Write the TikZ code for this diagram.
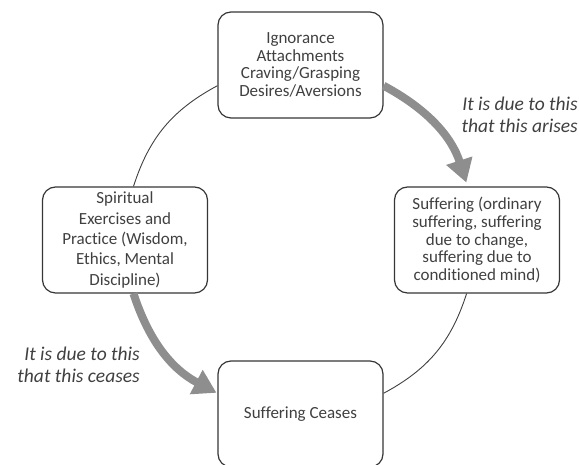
\documentclass[tikz,border=0pt]{standalone}
\usepackage{fontspec}
\setmainfont{Carlito}[Ligatures={NoCommon,NoContextual}, Contextuals=NoAlternate]
\usepackage{xcolor}
\usetikzlibrary{positioning,arrows.meta}
\definecolor{inkgray}{HTML}{404040}
\definecolor{flowgray}{HTML}{8E8E8E}

\begin{document}
\begin{tikzpicture}[
		x=1pt, y=1pt,
		stage/.style={
			draw=inkgray!85!black,
			line width=1.2pt,
			rounded corners=13pt,
			fill=white,
			text=inkgray,
			align=center,
			minimum width=165pt,
			minimum height=106pt,
			inner sep=2pt,
			font=\fontsize{17}{17.8}\selectfont
		},
		note/.style={
			text=inkgray,
			inner sep=0pt,
			align=right,
			font=\itshape\fontsize{19.5}{22}\selectfont
		},
		ring/.style={draw=inkgray, line width=0.9pt},
		flow/.style={draw=flowgray, line width=8pt, -{Triangle[width=26pt,length=23pt]}}
		]
		
		\clip (0,0) rectangle (579,465);
		
		\node[stage] (causes) at (300.5,400) {Ignorance\\ Attachments\\ Craving/Grasping\\ Desires/Aversions};
		
		\node[stage] (suffer) at (477,225) {Suffering (ordinary\\ suffering, suffering\\ due to change,\\ suffering due to\\ conditioned mind)};
		
		\node[stage] (ceases) at (300.5,51) {Suffering Ceases};
		
		\node[stage, font=\fontsize{17}{20.3}\selectfont] (practice) at (125,225) {Spiritual\\ Exercises and\\ Practice (Wisdom,\\ Ethics, Mental\\ Discipline)};
		
		\node[note, anchor=east] (arises) at (578,350) {It is due to this\\ that this arises};
		
		\node[note, anchor=east] (ceasing) at (140,100) {It is due to this\\ that this ceases};
		
		\draw[ring] (practice.81) to[bend left=22] (causes.194);
		\draw[ring] (suffer.259) to[bend left=22] (ceases.14);
		
		\draw[flow, shorten >=4pt] (causes.346) to[bend left=22] (suffer.100);
		\draw[flow, shorten >=1pt] (practice.279) to[bend right=22] (ceases.166);
		
	\end{tikzpicture}
\end{document}
